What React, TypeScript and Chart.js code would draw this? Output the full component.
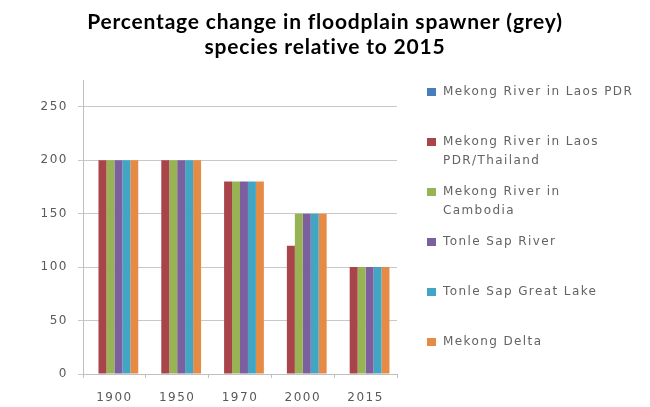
import React, { useEffect, useRef } from "react";
import { Chart, registerables } from "chart.js";

Chart.register(...registerables);

const categories = ["1900", "1950", "1970", "2000", "2015"];
const seriesNames = [
  "Mekong River in Laos PDR",
  "Mekong River in Laos PDR/Thailand",
  "Mekong River in Cambodia",
  "Tonle Sap River",
  "Tonle Sap Great Lake",
  "Mekong Delta",
];
const legendLines = [
  ["Mekong River in Laos PDR"],
  ["Mekong River in Laos", "PDR/Thailand"],
  ["Mekong River in", "Cambodia"],
  ["Tonle Sap River"],
  ["Tonle Sap Great Lake"],
  ["Mekong Delta"],
];
const laosPDR: (number | null)[] = [null, null, null, null, null];
const laosThailand = [200, 200, 180, 120, 100];
const cambodia = [200, 200, 180, 150, 100];
const tonleSapRiver = [200, 200, 180, 150, 100];
const tonleSapLake = [200, 200, 180, 150, 100];
const mekongDelta = [200, 200, 180, 150, 100];
const seriesValues = [laosPDR, laosThailand, cambodia, tonleSapRiver, tonleSapLake, mekongDelta];
const seriesColors = ["#4A7EBB", "#A8444A", "#98B354", "#7C5F9F", "#42A5C4", "#E58B46"];
const yTicks = [0, 50, 100, 150, 200, 250];
const titleLines = ["Percentage change in floodplain spawner (grey)", "species relative to 2015"];

const spacingPlugin = {
  id: "spacing",
  beforeDraw(chart: any) {
    chart.ctx.letterSpacing = "1.5px";
  },
};

const titlePlugin = {
  id: "centerTitle",
  afterDraw(chart: any) {
    const ctx = chart.ctx;
    ctx.save();
    ctx.letterSpacing = "0.8px";
    ctx.font = "bold 21px Lato";
    ctx.fillStyle = "#000";
    ctx.textAlign = "center";
    ctx.textBaseline = "middle";
    titleLines.forEach((t, i) => ctx.fillText(t, chart.width / 2, 22 + i * 25));
    ctx.restore();
  },
};

const legendPlugin = {
  id: "sideLegend",
  afterDraw(chart: any) {
    const ctx = chart.ctx;
    const ca = chart.chartArea;
    const x0 = ca.right + 30;
    ctx.save();
    ctx.letterSpacing = "1.4px";
    ctx.font = "12px 'DejaVu Sans'";
    ctx.textBaseline = "middle";
    ctx.textAlign = "left";
    legendLines.forEach((lines, i) => {
      const y = ca.top + 12 + i * 50;
      ctx.fillStyle = chart.data.datasets[i].backgroundColor;
      ctx.fillRect(x0, y - 4, 9, 8);
      ctx.fillStyle = "#636363";
      lines.forEach((t, j) => ctx.fillText(t, x0 + 16, y + j * 19));
    });
    ctx.restore();
  },
};

export default function App() {
  const ref = useRef<HTMLCanvasElement>(null);
  useEffect(() => {
    document.body.style.margin = "0";
    const chart = new Chart(ref.current!, {
      type: "bar",
      data: {
        labels: categories,
        datasets: seriesNames.map((name, i) => ({
          label: name,
          data: seriesValues[i],
          backgroundColor: seriesColors[i],
          borderWidth: 0,
          barPercentage: 1,
          categoryPercentage: 0.76,
        })),
      },
      options: {
        animation: false,
        responsive: false,
        layout: { padding: { left: 0, right: 253, top: 80, bottom: 0 } },
        plugins: {
          legend: { display: false },
          tooltip: { enabled: false },
          title: { display: false },
        },
        scales: {
          x: {
            grid: { drawOnChartArea: false, tickLength: 4, color: "#bfbfbf", offset: true },
            border: { color: "#bfbfbf" },
            ticks: { color: "#595959", font: { family: "DejaVu Sans", size: 12 }, padding: 13 },
            afterFit(scale: any) {
              scale.height = 33;
            },
          },
          y: {
            min: 0,
            max: 275,
            afterBuildTicks(scale: any) {
              scale.ticks = yTicks.map((v) => ({ value: v }));
            },
            grid: { color: "#c8c8c8", tickLength: 5 },
            border: { color: "#bfbfbf" },
            ticks: { color: "#595959", font: { family: "DejaVu Sans", size: 12 }, padding: 10 },
            afterFit(scale: any) {
              scale.width = 83;
            },
          },
        },
      },
      plugins: [spacingPlugin, titlePlugin, legendPlugin],
    });
    return () => chart.destroy();
  }, []);
  return (
    <div style={{ width: 650, height: 407, background: "#fff" }}>
      <canvas ref={ref} width={650} height={407} />
    </div>
  );
}
